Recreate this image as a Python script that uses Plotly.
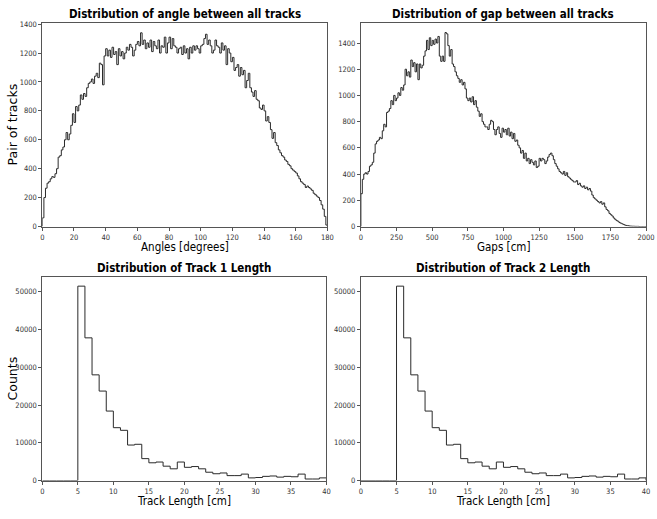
import numpy as np
import plotly.graph_objects as go

# ---------------- data ----------------
angle_bin_start = 0
angle_bin_width = 1
angle_counts = [
    60, 200, 265, 300, 310, 330, 345, 340, 365, 400,
    480, 490, 530, 550, 600, 650, 600, 640, 700, 780,
    720, 830, 800, 840, 910, 880, 920, 900, 960, 990,
    1000, 1020, 990, 1040, 1060, 1030, 1130, 1120, 980, 1180,
    1230, 1180, 1220, 1170, 1240, 1190, 1210, 1120, 1230, 1180,
    1210, 1160, 1200, 1240, 1220, 1260, 1240, 1180, 1220, 1260,
    1280, 1250, 1340, 1260, 1290, 1230, 1270, 1240, 1290, 1210,
    1280, 1250, 1230, 1290, 1200, 1250, 1240, 1310, 1200, 1270,
    1310, 1230, 1300, 1250, 1240, 1200, 1230, 1240, 1190, 1250,
    1200, 1230, 1160, 1240, 1200, 1250, 1220, 1250, 1230, 1200,
    1250, 1260, 1300, 1330, 1260, 1290, 1250, 1200, 1220, 1290,
    1250, 1240, 1200, 1270, 1220, 1250, 1120, 1230, 1200, 1140,
    1170, 1080, 1100, 1120, 1040, 1100, 1050, 1080, 960, 1010,
    1060, 960, 930, 900, 940, 880, 870, 820, 810, 840,
    800, 730, 760, 720, 670, 610, 650, 580, 560, 530,
    510, 490, 480, 460, 450, 430, 420, 400, 390, 380,
    370, 350, 330, 310, 300, 290, 270, 280, 270, 260,
    250, 230, 220, 210, 200, 180, 150, 120, 70, 10,
]

gap_bin_start = 0
gap_bin_width = 10
gap_counts = [
    250, 360, 400, 410, 400, 420, 460, 470, 490, 560,
    630, 650, 660, 680, 670, 730, 780, 760, 870, 880,
    900, 960, 930, 1000, 960, 980, 1020, 1000, 1060, 1040,
    1080, 1200, 1150, 1180, 1140, 1270, 1220, 1250, 1180, 1240,
    1120, 1240, 1210, 1230, 1300, 1340, 1420, 1350, 1440, 1380,
    1420, 1390, 1430, 1400, 1450, 1300, 1260, 1300, 1260, 1480,
    1470, 1380, 1300, 1350, 1240, 1220, 1180, 1150, 1130, 1100,
    1120, 1080, 1100, 1050, 980, 960, 980, 950, 990, 930,
    960, 910, 880, 840, 860, 800, 780, 760, 760, 740,
    780, 810, 800, 740, 700, 740, 760, 710, 680, 750,
    720, 740, 700, 750, 690, 720, 670, 710, 650, 660,
    620, 600, 560, 580, 520, 560, 500, 520, 480, 510,
    490, 470, 500, 450, 460, 520, 500, 520, 510, 480,
    500, 530, 550, 560, 540, 510, 480, 460, 440, 420,
    410, 400, 420, 390, 410, 380, 370, 360, 350, 340,
    340, 350, 320, 330, 310, 300, 310, 290, 300, 280,
    290, 270, 240, 220, 210, 200, 190, 180, 190, 170,
    180, 150, 130, 120, 100, 90, 80, 65, 55, 45,
    40, 30, 25, 20, 15, 10, 8, 6, 4, 3,
    2, 2, 1, 1, 1, 0, 0, 0, 0, 0,
]

len_bin_start = 0
len_bin_width = 1
track1_counts = [
    0, 0, 0, 0, 0, 51500, 37800, 28000, 23700, 18400,
    14000, 13300, 9400, 9600, 5800, 4700, 4900, 3800, 3100, 4900,
    3500, 3700, 3100, 2200, 1800, 2000, 1300, 1300, 1700, 700,
    800, 1100, 1200, 900, 1100, 1000, 1700, 400, 400, 700,
]
track2_counts = list(track1_counts)

titles = [
    "Distribution of angle between all tracks",
    "Distribution of gap between all tracks",
    "Distribution of Track 1 Length",
    "Distribution of Track 2 Length",
]
xlabels = ["Angles [degrees]", "Gaps [cm]", "Track Length [cm]", "Track Length [cm]"]
ylabels = ["Pair of tracks", "", "Counts", ""]

# ---------------- helpers ----------------
def step_xy(start, width, counts):
    counts = np.asarray(counts, dtype=float)
    edges = start + width * np.arange(len(counts) + 1)
    x = np.concatenate([[edges[0]], edges])
    y = np.concatenate([[0.0], counts, [0.0]])
    return x, y

W, H = 657, 519
LINE = "#2a2a2a"
SPINE = "#555555"
FONT_H = "DejaVu Sans Condensed, Liberation Sans Narrow, DejaVu Sans, sans-serif"
FONT_V = "DejaVu Sans, sans-serif"

# plot areas in pixels: (left, right, top, bottom)
boxes = [
    (41, 331, 20, 227),
    (365, 655, 20, 227),
    (41, 330, 278, 485),
    (365, 655, 278, 485),
]
xranges = [[0, 180], [0, 2000], [0, 40], [0, 40]]
yranges = [[0, 1410], [0, 1555], [0, 54000], [0, 54000]]
xdticks = [20, 250, 5, 5]
ydticks = [200, 200, 10000, 10000]

datasets = [
    step_xy(angle_bin_start, angle_bin_width, angle_counts),
    step_xy(gap_bin_start, gap_bin_width, gap_counts),
    step_xy(len_bin_start, len_bin_width, track1_counts),
    step_xy(len_bin_start, len_bin_width, track2_counts),
]

fig = go.Figure()
annotations = []
for i, ((x, y), (l, r, t, b)) in enumerate(zip(datasets, boxes)):
    suf = "" if i == 0 else str(i + 1)
    fig.add_trace(go.Scatter(
        x=x, y=y, mode="lines", line=dict(color=LINE, width=1, shape="hv"),
        xaxis="x" + suf, yaxis="y" + suf, showlegend=False, hoverinfo="skip",
    ))
    ax_common = dict(
        showline=True, linecolor=SPINE, linewidth=1, mirror=True,
        showgrid=False, zeroline=False, ticks="outside", ticklen=3,
        tickwidth=1, tickcolor=SPINE, tickformat="d",
        tickfont=dict(family=FONT_H, size=7.5, color="#333333"),
    )
    fig.update_layout({
        "xaxis" + suf: dict(
            domain=[l / W, r / W], range=xranges[i], anchor="y" + suf,
            tick0=0, dtick=xdticks[i], ticklabeloverflow="allow",
            **ax_common,
        ),
        "yaxis" + suf: dict(
            domain=[1 - b / H, 1 - t / H], range=yranges[i], anchor="x" + suf,
            tick0=0, dtick=ydticks[i], **ax_common,
        ),
    })
    cx = (l + r) / 2
    annotations.append(dict(
        text="<b>" + titles[i] + "</b>", x=cx / W, y=1 - (t - 9) / H,
        xref="paper", yref="paper", showarrow=False, xanchor="center",
        yanchor="middle", font=dict(family=FONT_H, size=11.5, color="black"),
    ))
    annotations.append(dict(
        text=xlabels[i], x=cx / W, y=1 - (b + 21) / H,
        xref="paper", yref="paper", showarrow=False, xanchor="center",
        yanchor="middle", font=dict(family=FONT_H, size=11.5, color="black"),
    ))
    if ylabels[i]:
        annotations.append(dict(
            text=ylabels[i], x=11 / W, y=1 - ((t + b) / 2) / H,
            xref="paper", yref="paper", showarrow=False, xanchor="center",
            yanchor="middle", textangle=-90,
            font=dict(family=FONT_V, size=12.5, color="black"),
        ))

fig.update_layout(
    width=W, height=H, margin=dict(l=0, r=0, t=0, b=0),
    paper_bgcolor="white", plot_bgcolor="white",
    annotations=annotations, showlegend=False,
)
fig.write_html("out.html")
